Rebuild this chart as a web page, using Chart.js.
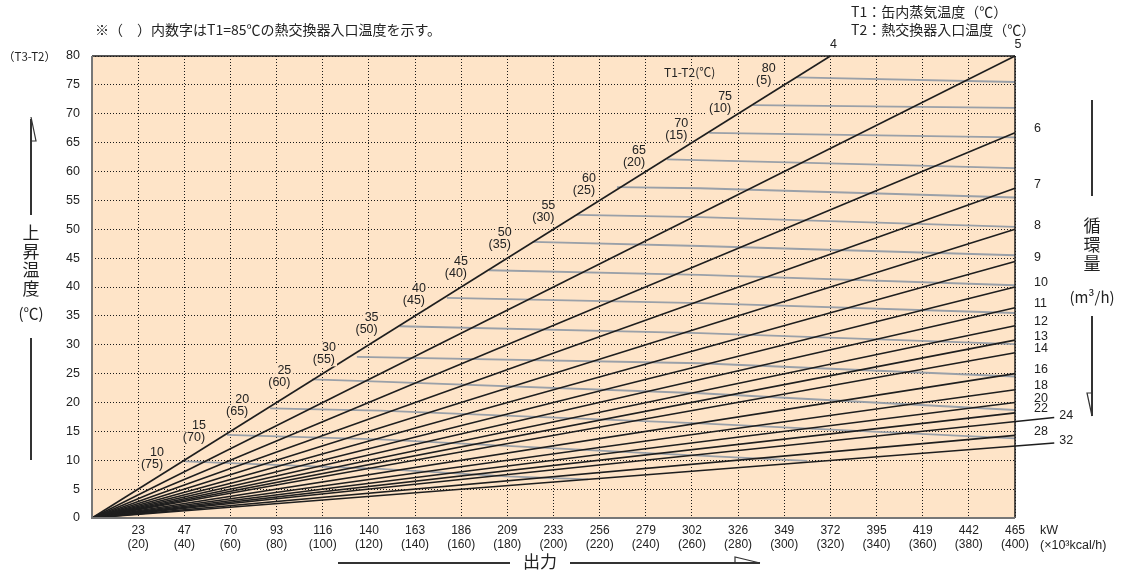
<!DOCTYPE html>
<html>
<head>
<meta charset="utf-8">
<script src="https://cdn.jsdelivr.net/npm/chart.js@4.4.1/dist/chart.umd.min.js"></script>
<style>
    body { margin: 0; background: #fff; }
</style>
</head>
<body>
<canvas id="chart" width="1128" height="575"></canvas>
<script>
// circulation flow lines (m3/h), straight from origin to end point (x in 10^3 kcal/h)
const flows = [4, 5, 6, 7, 8, 9, 10, 11, 12, 13, 14, 16, 18, 20, 22, 24, 28, 32];
const flowEndX = [320, 400, 400, 400, 400, 400, 400, 400, 400, 400, 400, 400, 400, 400, 400, 417, 400, 417];
const flowEndY = [80, 80, 66.7, 57.1, 50, 44.4, 40, 36.4, 33.3, 30.8, 28.6, 25, 22.2, 20, 18.2, 17.4, 14.3, 13.0];

// grey T1-T2 lines, label pairs and the points
const diffTemps = [10, 15, 20, 25, 30, 35, 40, 45, 50, 55, 60, 65, 70, 75, 80];
const inletTemps = [75, 70, 65, 60, 55, 50, 45, 40, 35, 30, 25, 20, 15, 10, 5];
const diffLineX = [
    [40.3, 124.8, 179.8, 215],
    [58.5, 124.8, 243.1, 310],
    [77.2, 124.8, 263.5, 400],
    [95.5, 124.8, 263.5, 400],
    [114.8, 263.5, 400],
    [133.3, 263.5, 400],
    [153.8, 263.5, 400],
    [172, 263.5, 400],
    [191, 263.5, 400],
    [209.9, 263.5, 400],
    [227.5, 263.5, 400],
    [249.2, 350, 400],
    [267.5, 400],
    [286.5, 400],
    [305.4, 400]
];
const diffLineY = [
    [9.8, 8.5, 7.2, 6.7],
    [14.4, 13.6, 11.2, 9.9],
    [19.0, 18.6, 16.4, 13.8],
    [24.0, 23.6, 21.6, 18.7],
    [27.9, 26.8, 24.5],
    [33.2, 32.0, 30.1],
    [38.1, 37.2, 35.5],
    [42.9, 42.1, 40.3],
    [47.8, 47.1, 45.5],
    [52.5, 52.1, 50.4],
    [57.3, 57.1, 55.5],
    [62.1, 61.1, 60.6],
    [66.7, 65.9],
    [71.5, 71.0],
    [76.3, 75.5]
];

// x axis tick labels
const kwTicks = [23, 47, 70, 93, 116, 140, 163, 186, 209, 233, 256, 279, 302, 326, 349, 372, 395, 419, 442, 465];
const kcalTicks = [20, 40, 60, 80, 100, 120, 140, 160, 180, 200, 220, 240, 260, 280, 300, 320, 340, 360, 380, 400];

const BG = '#fee4c8';
const JP = '"Noto Sans CJK JP", sans-serif';
const LAT = '"Liberation Sans", Arial, sans-serif';

const datasets = [];
flows.forEach((f, i) => {
    datasets.push({
        data: [{ x: 0, y: 0 }, { x: flowEndX[i], y: flowEndY[i] }],
        borderColor: '#1e1e1e',
        borderWidth: 1.6,
        pointRadius: 0,
        clip: false
    });
});
diffTemps.forEach((d, i) => {
    datasets.push({
        data: diffLineX[i].map((x, j) => ({ x, y: diffLineY[i][j] })),
        borderColor: '#9aa0a8',
        borderWidth: 1.8,
        pointRadius: 0
    });
});

function boxText(ctx, text, x, y) {
    const w = ctx.measureText(text).width;
    ctx.fillStyle = BG;
    ctx.fillRect(x - w / 2 - 2, y - 6.5, w + 4, 13);
    ctx.fillStyle = '#222';
    ctx.fillText(text, x, y);
}

function line(ctx, x1, y1, x2, y2) {
    ctx.beginPath();
    ctx.moveTo(x1, y1);
    ctx.lineTo(x2, y2);
    ctx.stroke();
}

const decor = {
    id: 'decor',
    beforeDraw(chart) {
        const { ctx, chartArea: a } = chart;
        ctx.save();
        ctx.fillStyle = BG;
        ctx.fillRect(a.left, a.top, a.right - a.left, a.bottom - a.top);
        ctx.restore();
    },
    afterDraw(chart) {
        const { ctx, chartArea: a } = chart;
        const xs = chart.scales.x, ys = chart.scales.y;
        ctx.save();

        // frame
        ctx.strokeStyle = '#1e1e1e';
        ctx.lineWidth = 1.5;
        line(ctx, a.left, a.top, a.right, a.top);
        line(ctx, a.right, a.top, a.right, a.bottom);
        ctx.strokeStyle = '#777';
        ctx.lineWidth = 2;
        line(ctx, a.left, a.top, a.left, a.bottom + 1);
        line(ctx, a.left, a.bottom, a.right, a.bottom);

        // labels along the 4 m3/h line
        ctx.font = '12.5px ' + LAT;
        ctx.textAlign = 'center';
        ctx.textBaseline = 'middle';
        diffTemps.forEach((d, i) => {
            const sx = xs.getPixelForValue(diffLineX[i][0]);
            const sy = ys.getPixelForValue(diffLineY[i][0]);
            boxText(ctx, String(d), sx - 28, sy - 9);
            boxText(ctx, '(' + inletTemps[i] + ')', sx - 33, sy + 3);
        });
        ctx.font = '12px ' + JP;
        boxText(ctx, 'T1-T2(℃)', xs.getPixelForValue(259), ys.getPixelForValue(77.1));

        // flow labels
        ctx.fillStyle = '#222';
        ctx.font = '12.5px ' + LAT;
        flows.forEach((f, i) => {
            if (flowEndY[i] >= 80) {
                ctx.textAlign = 'center';
                ctx.fillText(String(f), xs.getPixelForValue(flowEndX[i]) + 3, a.top - 11);
            } else if (flowEndX[i] > 400) {
                ctx.textAlign = 'left';
                ctx.fillText(String(f), xs.getPixelForValue(flowEndX[i]) + 5, ys.getPixelForValue(flowEndY[i]) - 2);
            } else {
                ctx.textAlign = 'left';
                ctx.fillText(String(f), a.right + 19, ys.getPixelForValue(flowEndY[i]) - 4);
            }
        });

        // axis side texts
        ctx.font = '11.5px ' + JP;
        ctx.textAlign = 'left';
        ctx.fillText('（T3-T2）', 3, a.top + 1);
        ctx.font = '12.5px ' + LAT;
        ctx.fillText('kW', a.right + 25, a.bottom + 13);
        ctx.fillText('(×10³kcal/h)', a.right + 25, a.bottom + 28);

        ctx.font = '14px ' + JP;
        ctx.fillText('※（　）内数字はT1=85℃の熱交換器入口温度を示す。', 95, 30);
        ctx.fillText('T1：缶内蒸気温度（℃）', 851, 12);
        ctx.fillText('T2：熱交換器入口温度（℃）', 851, 30);

        // left title
        ctx.textAlign = 'center';
        ctx.font = '17px ' + JP;
        ['上', '昇', '温', '度'].forEach((c, i) => ctx.fillText(c, 31, 233 + i * 18.5));
        ctx.font = '15px ' + JP;
        ctx.fillText('(℃)', 31, 313);
        ctx.strokeStyle = '#333';
        ctx.lineWidth = 2;
        line(ctx, 31, 119, 31, 215);
        line(ctx, 31, 338, 31, 460);
        ctx.lineWidth = 1.2;
        ctx.beginPath();
        ctx.moveTo(31, 117); ctx.lineTo(36, 141); ctx.lineTo(31, 141);
        ctx.stroke();

        // right title
        ctx.font = '17px ' + JP;
        ['循', '環', '量'].forEach((c, i) => ctx.fillText(c, 1092, 226 + i * 19));
        ctx.font = '15px ' + JP;
        ctx.fillText('(m³/h)', 1092, 297);
        ctx.lineWidth = 2;
        line(ctx, 1092, 100, 1092, 196);
        line(ctx, 1092, 316, 1092, 416);
        ctx.lineWidth = 1.2;
        ctx.beginPath();
        ctx.moveTo(1092, 416); ctx.lineTo(1087, 393); ctx.lineTo(1092, 393);
        ctx.stroke();

        // bottom title
        ctx.font = '17px ' + JP;
        ctx.fillText('出力', 540, 562);
        ctx.lineWidth = 2;
        line(ctx, 338, 563, 510, 563);
        line(ctx, 570, 563, 760, 563);
        ctx.lineWidth = 1.2;
        ctx.beginPath();
        ctx.moveTo(735, 563); ctx.lineTo(735, 557); ctx.lineTo(760, 563);
        ctx.stroke();

        ctx.restore();
    }
};

const gridOpts = { color: '#1a1a1a', lineWidth: 1, drawTicks: false };

new Chart(document.getElementById('chart'), {
    type: 'line',
    data: { datasets },
    options: {
        responsive: false,
        animation: false,
        layout: { padding: { left: 0, right: 113, top: 56, bottom: 0 } },
        plugins: { legend: { display: false }, tooltip: { enabled: false } },
        scales: {
            x: {
                type: 'linear',
                min: 0,
                max: 400,
                grid: gridOpts,
                border: { display: false, dash: [1, 2] },
                afterFit: (s) => { s.height = 57; },
                ticks: {
                    stepSize: 20,
                    autoSkip: false,
                    maxRotation: 0,
                    padding: 5,
                    color: '#222',
                    font: { family: LAT, size: 12, lineHeight: 1.2 },
                    callback: (v) => {
                        const i = kcalTicks.indexOf(v);
                        if (i < 0) return '';
                        return [String(kwTicks[i]), '(' + kcalTicks[i] + ')'];
                    }
                }
            },
            y: {
                min: 0,
                max: 80,
                grid: gridOpts,
                border: { display: false, dash: [1, 2] },
                afterFit: (s) => { s.width = 92; },
                ticks: {
                    stepSize: 5,
                    padding: 12,
                    color: '#222',
                    font: { family: LAT, size: 12.5 }
                }
            }
        }
    },
    plugins: [decor]
});
</script>
</body>
</html>
